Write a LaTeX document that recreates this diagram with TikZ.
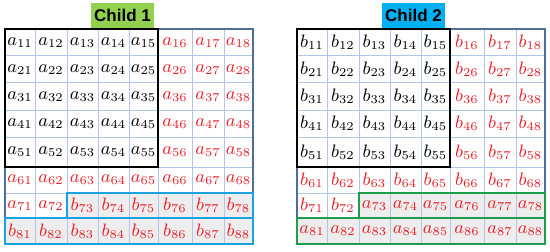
\documentclass[tikz,border=0pt]{standalone}
\usepackage{amsmath}
\usepackage{fontspec}
\setsansfont{Liberation Sans}
\usepackage{xcolor}
\usetikzlibrary{positioning}
\definecolor{gridline}{HTML}{B4C6E7}
\definecolor{gridframe}{HTML}{4F6E9E}
\definecolor{crossred}{HTML}{E8202A}
\definecolor{swapfill}{HTML}{EDEDED}
\definecolor{boxblue}{HTML}{1AA3E0}
\definecolor{boxgreen}{HTML}{1E9E4A}
\definecolor{titlegreen}{HTML}{92D050}
\definecolor{titlecyan}{HTML}{00B0F0}

\begin{document}
\begin{tikzpicture}[x=0.5pt,y=-0.5pt,
  cell/.style={inner sep=0pt,font=\fontsize{9}{10}\selectfont},
  title/.style={font=\sffamily\bfseries\fontsize{8.5}{10}\selectfont,minimum width=31.5pt,minimum height=12.5pt,inner sep=0pt}]
  \useasboundingbox (0,0) rectangle (550,251);
  \node[title,fill=titlegreen] (child1) at (122.5,15.5) {Child 1};
  \node[title,fill=titlecyan] (child2) at (413.5,15.5) {Child 2};
  % two offspring grids
  \foreach \g/\off/\own/\other/\edge in {L/0/a/b/boxblue,R/292/b/a/boxgreen}{
    \fill[swapfill] ({67+\off},193) rectangle ({253+\off},218);
    \fill[swapfill] ({5+\off},218) rectangle ({253+\off},244);
    \foreach \x in {35,67,98,129,158,192,224}
      \draw[gridline,line width=0.5pt] ({\x+\off},29) -- ({\x+\off},244);
    \foreach \y in {56,83,110,137,167,193,218}
      \draw[gridline,line width=0.5pt] ({5+\off},\y) -- ({253+\off},\y);
    \draw[gridframe,line width=0.6pt] ({5+\off},29) rectangle ({253+\off},244);
    \draw[black,line width=0.7pt] ({5+\off},29) rectangle ({158+\off},167);
    \draw[\edge,line width=1.1pt] ({67+\off},193) rectangle ({253+\off},218);
    \draw[\edge,line width=1.1pt] ({5+\off},218) rectangle ({253+\off},244);
    \foreach \xa/\xb [count=\c] in {5/35,35/67,67/98,98/129,129/158,158/192,192/224,224/253}
      \foreach \ya/\yb [count=\r] in {29/56,56/83,83/110,110/137,137/167,167/193,193/218,218/244}{
        \pgfmathtruncatemacro\swap{(\r==8)||((\r==7)&&(\c>=3))}
        \pgfmathtruncatemacro\kept{(\r<=5)&&(\c<=5)}
        \ifnum\swap=1 \edef\ltr{\other}\else\edef\ltr{\own}\fi
        \ifnum\kept=1 \def\ink{black}\else\def\ink{crossred}\fi
        \node[cell,text=\ink] (\g-\r-\c) at ({(\xa+\xb)/2+\off},{(\ya+\yb)/2}) {$\ltr_{\r\c}$};
      }
  }
\end{tikzpicture}
\end{document}
